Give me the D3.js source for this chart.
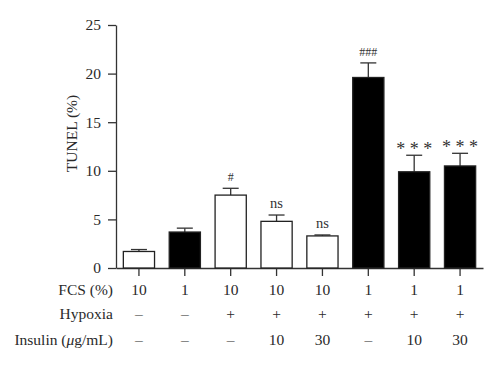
<!DOCTYPE html>
<html>
<head>
<meta charset="utf-8">
<script src="https://cdn.jsdelivr.net/npm/d3@7"></script>
<style>
  body { margin: 0; background: #fff; }
</style>
</head>
<body>
<div class="chart"></div>
<script>
// ======= TUNEL bar chart =======

const groups = ['g1', 'g2', 'g3', 'g4', 'g5', 'g6', 'g7', 'g8']
const values = [1.7, 3.7, 7.5, 4.8, 3.3, 19.6, 9.9, 10.5]
const errors = [0.2, 0.4, 0.7, 0.65, 0.1, 1.5, 1.7, 1.3]
const filled = [false, true, false, false, false, true, true, true]
const marks = ['', '', '#', 'ns', 'ns', '###', '* * *', '* * *']

const rowLabels = ['FCS (%)', 'Hypoxia', 'Insulin (μg/mL)']
const fcsRow = ['10', '1', '10', '10', '10', '1', '1', '1']
const hypoxiaRow = ['–', '–', '+', '+', '+', '+', '+', '+']
const insulinRow = ['–', '–', '–', '10', '30', '–', '10', '30']

const yTicks = [0, 5, 10, 15, 20, 25]

const serif = '"Liberation Serif", "Times New Roman", Times, serif'

const margin = { top: 25, right: 17, bottom: 108, left: 116 }
const width = 500 - margin.left - margin.right
const height = 376 - margin.top - margin.bottom

const svg = d3.select('.chart')
  .append('svg')
    .attr('width', 500)
    .attr('height', 376)
    .attr('font-family', serif)

const container = svg.append('g')
    .attr('transform', `translate(${margin.left}, ${margin.top})`)

const yScale = d3.scaleLinear()
  .domain([0, 25])
  .range([height, 0])

const xScale = d3.scaleBand()
  .domain(groups)
  .range([0, width])
  .paddingInner(0.32)
  .paddingOuter(0.16)

// y axis
const yAxis = d3.axisLeft(yScale).tickValues(yTicks).tickSize(8).tickSizeOuter(0)
const yG = container.append('g').call(yAxis).attr('font-family', serif)
yG.selectAll('text').attr('font-size', 15.5).attr('fill', '#2a2a2a').attr('dx', '-4')

// x axis, ticks only, no labels
const xAxis = d3.axisBottom(xScale).tickSize(8).tickSizeOuter(0).tickFormat('')
container.append('g')
  .attr('transform', `translate(0, ${height})`)
  .call(xAxis)

container.selectAll('.domain, .tick line').attr('stroke', '#333').attr('stroke-width', 1.3)

// error bars (upper only)
const capW = 16
const err = container.selectAll('.err')
  .data(groups)
  .enter().append('g')
  .attr('class', 'err')
  .attr('stroke', '#333')
  .attr('stroke-width', 1.3)

err.append('line')
  .attr('x1', d => xScale(d) + xScale.bandwidth() / 2)
  .attr('x2', d => xScale(d) + xScale.bandwidth() / 2)
  .attr('y1', (d, i) => yScale(values[i]))
  .attr('y2', (d, i) => yScale(values[i] + errors[i]))

err.append('line')
  .attr('x1', d => xScale(d) + xScale.bandwidth() / 2 - capW / 2)
  .attr('x2', d => xScale(d) + xScale.bandwidth() / 2 + capW / 2)
  .attr('y1', (d, i) => yScale(values[i] + errors[i]))
  .attr('y2', (d, i) => yScale(values[i] + errors[i]))

// bars
container.selectAll('.bar')
  .data(groups)
  .enter().append('rect')
  .attr('class', 'bar')
  .attr('x', d => xScale(d))
  .attr('y', (d, i) => yScale(values[i]))
  .attr('width', xScale.bandwidth())
  .attr('height', (d, i) => height - yScale(values[i]))
  .attr('fill', (d, i) => filled[i] ? '#000' : '#fff')
  .attr('stroke', '#222')
  .attr('stroke-width', 1.3)

// significance marks
container.selectAll('.mark')
  .data(groups)
  .enter().append('text')
  .attr('class', 'mark')
  .attr('x', d => xScale(d) + xScale.bandwidth() / 2)
  .attr('y', (d, i) => yScale(values[i] + errors[i]) - (marks[i].startsWith('*') ? 0 : 7))
  .attr('text-anchor', 'middle')
  .attr('fill', '#333')
  .attr('font-size', (d, i) => marks[i].startsWith('*') ? 18 : (marks[i] === 'ns' ? 14.5 : 12))
  .text((d, i) => marks[i])

// y label
container.append('text')
  .attr('transform', `translate(-39, ${height / 2 - 13}) rotate(-90)`)
  .attr('text-anchor', 'middle')
  .attr('font-size', 15.5)
  .attr('fill', '#2a2a2a')
  .text('TUNEL (%)')

// condition table under the axis
const rows = [fcsRow, hypoxiaRow, insulinRow]
const rowY = [height + 27, height + 51, height + 77]

rows.forEach((row, r) => {
  container.append('text')
    .attr('x', -3)
    .attr('y', rowY[r])
    .attr('text-anchor', 'end')
    .attr('font-size', 15.5)
    .attr('fill', '#2a2a2a')
    .html(r === 2 ? 'Insulin (<tspan font-style="italic">μ</tspan>g/mL)' : rowLabels[r])

  container.selectAll('.cell' + r)
    .data(groups)
    .enter().append('text')
    .attr('x', d => xScale(d) + xScale.bandwidth() / 2)
    .attr('y', rowY[r])
    .attr('text-anchor', 'middle')
    .attr('font-size', 15.5)
    .attr('fill', '#2a2a2a')
    .text((d, i) => row[i])
})
</script>
</body>
</html>
